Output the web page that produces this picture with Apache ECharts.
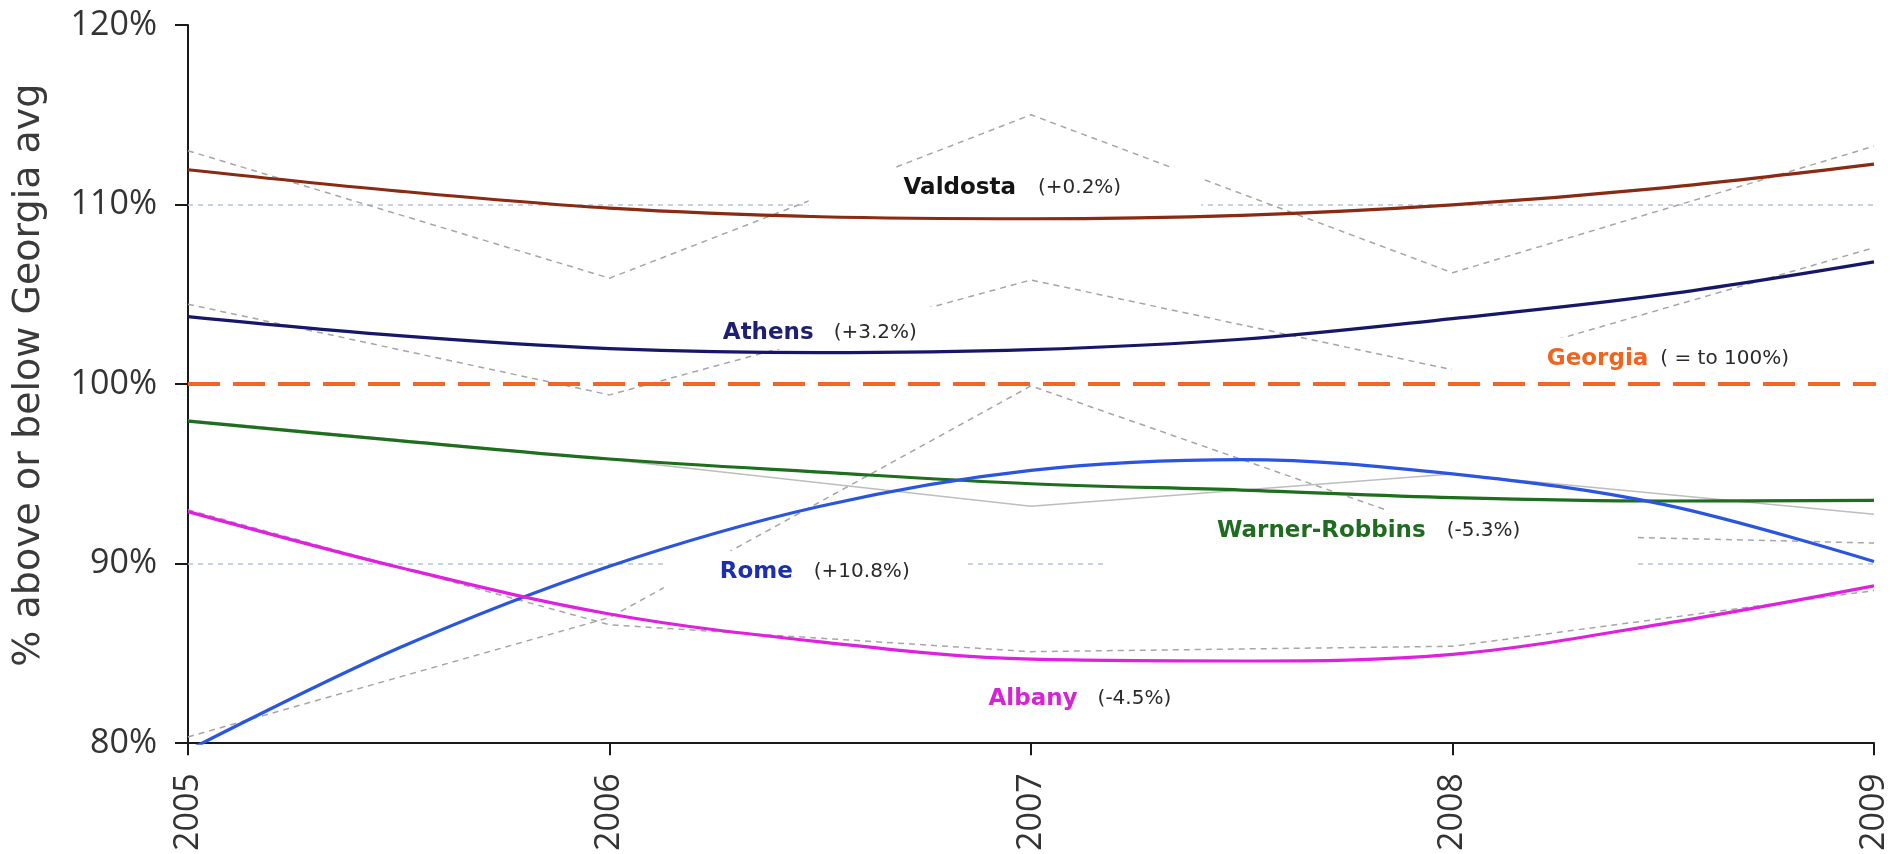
<!DOCTYPE html>
<html>
<head>
<meta charset="utf-8">
<script src="https://cdn.jsdelivr.net/npm/echarts@6/dist/echarts.min.js"></script>
<style>
html,body{margin:0;padding:0;background:#fff;}
#chart{width:1902px;height:854px;}
</style>
</head>
<body>
<div id="chart"></div>
<script>
// ---- data ----
const years = [2005, 2006, 2007, 2008, 2009];
const trendYears = [2005, 2005.5, 2006, 2006.5, 2007, 2007.5, 2008, 2008.5, 2009];
const yTicks = [80, 90, 100, 110, 120];
const gridValues = [90, 110];

const valdostaTrend = [111.94, 110.75, 109.8, 109.32, 109.21, 109.4, 109.98, 110.93, 112.25];
const athensTrend   = [103.76, 102.7, 101.98, 101.75, 101.92, 102.5, 103.65, 104.98, 106.81];
const warnerTrend   = [97.94, 96.85, 95.83, 95.1, 94.45, 94.1, 93.68, 93.49, 93.53];
const romeTrend     = [79.6, 85.3, 89.86, 93.2, 95.2, 95.8, 95.0, 93.3, 90.12];
const albanyTrend   = [92.9, 89.8, 87.2, 85.65, 84.68, 84.58, 84.95, 86.65, 88.76];

const valdostaActual = [113.0, 105.9, 115.0, 106.2, 113.25];
const athensActual   = [104.45, 99.4, 105.8, 100.8, 107.6];
const warnerActual   = [98.0, 95.8, 93.2, 95.0, 92.75];
const romeActual     = [80.35, 87.0, 99.9, 91.7, 91.15];
const albanyActual   = [93.0, 86.6, 85.1, 85.4, 88.5];

const georgiaYears = [2005, 2009.035];
const georgiaValues = [100, 100];

const cityNames = ['Valdosta', 'Athens', 'Warner-Robbins', 'Rome', 'Albany', 'Georgia'];
const cityChanges = ['(+0.2%)', '(+3.2%)', '(-5.3%)', '(+10.8%)', '(-4.5%)', '( = to 100%)'];

// ---- styles / placement ----
const colors = {
  Valdosta: '#8a2a12', Athens: '#17176a', 'Warner-Robbins': '#1d6e1d',
  Rome: '#2a55e0', Albany: '#e020e0', Georgia: '#f26522'
};
const nameColors = {
  Valdosta: '#141414', Athens: '#1f1f70', 'Warner-Robbins': '#1f6b1f',
  Rome: '#1c2fae', Albany: '#d424d4', Georgia: '#f0641e'
};
const labelPlace = {
  Valdosta:        {coord: [2006.938, 110.73], pad: [8, 80, 15, 95], gap: 22, bg: '#fff'},
  Athens:          {coord: [2006.499, 103.12], pad: [14, 16, 4, 16], gap: 20, bg: '#fff'},
  'Warner-Robbins':{coord: [2007.807, 91.1], pad: [9, 115, 35, 110], gap: 21, bg: '#fff'},
  Rome:            {coord: [2006.488, 89.5], pad: [9, 57, 11, 56], gap: 21, bg: '#fff'},
  Albany:          {coord: [2007.116, 82.45], pad: [0, 0, 0, 0], gap: 20, bg: 'transparent'},
  Georgia:         {coord: [2008.511, 101.45], pad: [9, 95, 8, 95], gap: 12, bg: '#fff'}
};

function pair(xs, ys) { return xs.map((x, i) => [x, ys[i]]); }

function labelMark(idx) {
  const name = cityNames[idx];
  const p = labelPlace[name];
  return {
    z: 10,
    silent: true,
    symbol: 'rect',
    symbolSize: 0,
    animation: false,
    data: [{coord: p.coord, value: 0}],
    label: {
      show: true,
      position: 'inside',
      formatter: '{n|' + name + '}{v|' + cityChanges[idx] + '}',
      backgroundColor: p.bg,
      padding: p.pad,
      lineHeight: 24,
      rich: {
        n: {fontFamily: 'DejaVu Sans', fontWeight: 'bold', fontSize: 23, color: nameColors[name], lineHeight: 24},
        v: {fontFamily: 'DejaVu Sans', fontSize: 20, color: '#2a2a2a', lineHeight: 24, padding: [0, 0, 0, p.gap]}
      }
    }
  };
}

function trend(idx, values) {
  const name = cityNames[idx];
  return {
    name: name + ' trend', type: 'line', data: pair(trendYears, values),
    smooth: 0.35, showSymbol: false, symbol: 'none', z: 3,
    lineStyle: {width: 3.2, color: colors[name]},
    markPoint: labelMark(idx)
  };
}
function actual(name, values, solid) {
  return {
    name: name, type: 'line', data: pair(years, values),
    showSymbol: false, symbol: 'none', z: 2,
    lineStyle: solid ? {width: 1.5, color: '#bdbdbd'} : {width: 1.5, color: '#a6a6a6', type: [6, 5]}
  };
}

const chart = echarts.init(document.getElementById('chart'));
chart.setOption({
  animation: false,
  backgroundColor: '#fff',
  grid: {left: 188, right: 28, top: 25, bottom: 106, containLabel: false},
  xAxis: {
    type: 'value', min: years[0], max: years[years.length - 1], interval: 1,
    axisLine: {show: true, lineStyle: {color: '#1a1a1a', width: 2}},
    axisTick: {show: true, length: 12, lineStyle: {color: '#1a1a1a', width: 2}},
    splitLine: {show: false},
    axisLabel: {rotate: 90, margin: 30, fontFamily: 'Open Sans', fontSize: 34, color: '#333',
      formatter: v => String(v)}
  },
  yAxis: {
    type: 'value', min: yTicks[0], max: yTicks[yTicks.length - 1], interval: 10,
    name: '% above or below Georgia avg', nameLocation: 'middle', nameGap: 140,
    nameTextStyle: {fontFamily: 'DejaVu Sans', fontSize: 38, color: '#3a3a3a', padding: [0, 0, 0, 18]},
    axisLine: {show: true, lineStyle: {color: '#1a1a1a', width: 2}},
    axisTick: {show: true, length: 13, lineStyle: {color: '#1a1a1a', width: 2}},
    splitLine: {show: false},
    axisLabel: {margin: 31, fontFamily: 'Open Sans', fontSize: 34, color: '#333', formatter: '{value}%'}
  },
  series: [
    actual('Valdosta', valdostaActual, false),
    actual('Athens', athensActual, false),
    actual('Warner-Robbins', warnerActual, true),
    actual('Rome', romeActual, false),
    actual('Albany', albanyActual, false),
    trend(0, valdostaTrend),
    trend(1, athensTrend),
    trend(2, warnerTrend),
    trend(3, romeTrend),
    trend(4, albanyTrend),
    {
      name: 'Georgia', type: 'line', data: pair(georgiaYears, georgiaValues),
      clip: false, showSymbol: false, symbol: 'none', z: 4,
      lineStyle: {width: 4, color: colors.Georgia, type: [32, 13]},
      markLine: {
        z: 1, silent: true, symbol: 'none', animation: false,
        label: {show: false},
        lineStyle: {color: '#b8c2dc', width: 1.5, type: [5, 5]},
        data: gridValues.map(v => ({yAxis: v}))
      },
      markPoint: labelMark(5)
    }
  ]
});
</script>
</body>
</html>
